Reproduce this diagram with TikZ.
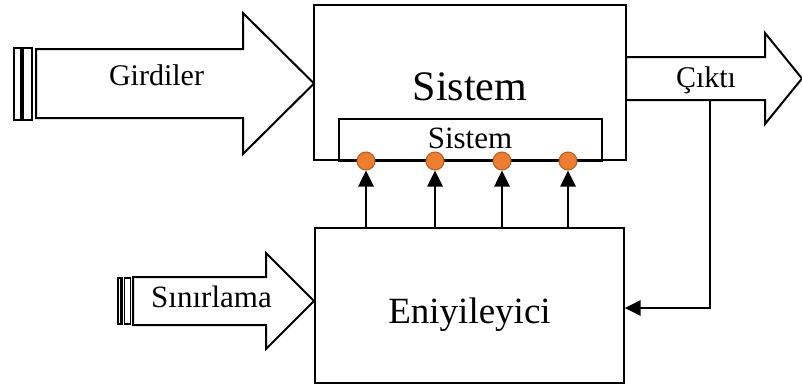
\documentclass[tikz,border=0pt]{standalone}
\usepackage{fontspec}
\setmainfont{Liberation Serif}
\usetikzlibrary{arrows.meta}
\definecolor{dotfill}{HTML}{ED7D31}
\definecolor{dotedge}{HTML}{B05F25}
\begin{document}
\begin{tikzpicture}[x=1pt,y=-1pt,
  blockbox/.style={draw,line width=1.2pt,rectangle,inner sep=0pt},
  fatarrow/.style={draw,line width=2pt,line join=miter,fill=white},
  label/.style={font=\fontsize{30}{30}\selectfont,anchor=base,inner sep=0pt},
  port/.style={circle,fill=dotfill,draw=dotedge,line width=1pt,minimum size=18pt,inner sep=0pt},
  feed/.style={line width=2.6pt,-{Triangle[length=16pt,width=15pt]}}]
\useasboundingbox (0,0) rectangle (802,388);

% main blocks
\node[blockbox,minimum width=312pt,minimum height=155pt] (sys) at (470,82.5) {};
\node[blockbox,minimum width=309pt,minimum height=155pt] (opt) at (469.5,305.5) {};
\node[blockbox,minimum width=263pt,minimum height=42pt] (inner) at (470.5,140) {};

\node[anchor=base,inner sep=0pt,font=\fontsize{42}{42}\selectfont] (systxt) at (470,100) {Sistem};
\node[anchor=base,inner sep=0pt,font=\fontsize{37}{37}\selectfont] (opttxt) at (469.5,323) {Eniyileyici};
\node[label,font=\fontsize{31}{31}\selectfont] (innertxt) at (470,148) {Sistem};

% input arrow with end bars
\draw[fatarrow] (36,49) -- (243,49) -- (243,13) -- (314,83.5) -- (243,154) -- (243,118) -- (36,118) -- cycle;
\draw[line width=2pt] (14,48) rectangle (20.5,120);
\draw[line width=2pt] (23,48) rectangle (32,120);
\node[label] (intxt) at (156.5,85) {Girdiler};

% constraint arrow with end bars
\draw[fatarrow] (133,277) -- (266,277) -- (266,253) -- (314,301) -- (266,349) -- (266,325) -- (133,325) -- cycle;
\draw[line width=2.2pt] (118,278) rectangle (121.5,324);
\draw[line width=1.6pt] (124.5,278) rectangle (130.5,324);
\node[label,font=\fontsize{31}{31}\selectfont] (contxt) at (211.5,307) {Sınırlama};

% output arrow
\draw[fatarrow] (626,57) -- (765,57) -- (765,33) -- (802,78.5) -- (765,124) -- (765,100) -- (626,100) -- cycle;
\node[label] (outtxt) at (706,87) {Çıktı};

% feedback from output to optimiser
\coordinate (tap) at (710,100);
\draw[feed] (tap) |- (opt.east |- 0,308);

% control ports
\foreach \i/\x in {1/366,2/435,3/502,4/568}{
  \node[port] (p\i) at (\x,161) {};
  \draw[feed] (opt.north -| p\i) -- (p\i.south);
}
\end{tikzpicture}
\end{document}
